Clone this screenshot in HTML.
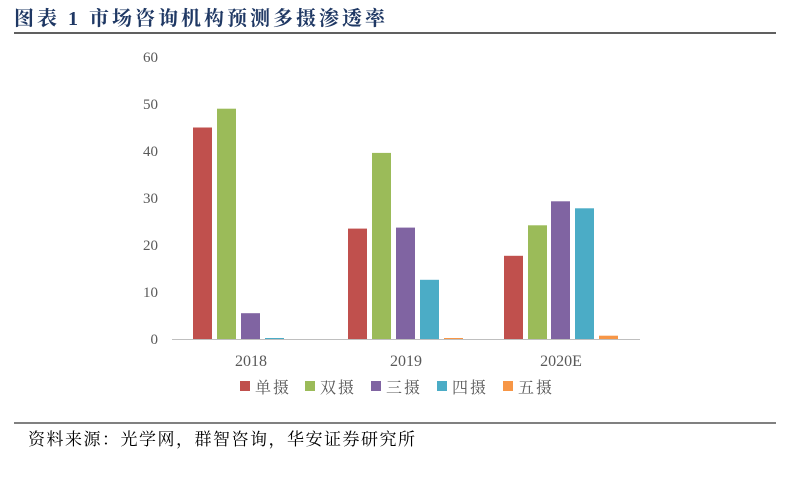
<!DOCTYPE html>
<html><head><meta charset="utf-8"><style>
body{margin:0;background:#fff;width:794px;height:478px;overflow:hidden}
</style></head><body>
<svg width="794" height="478" xmlns="http://www.w3.org/2000/svg">
<text x="14" y="25" font-family="'Liberation Serif','Noto Serif CJK SC',serif" font-weight="bold" font-size="20" fill="#1F3864" letter-spacing="3" xml:space="preserve">图表 1 市场咨询机构预测多摄渗透率</text>
<line x1="14" y1="33" x2="776" y2="33" stroke="#000" stroke-width="1.2"/>
<g font-family="'Liberation Serif',serif" font-size="15" fill="#595959" text-anchor="end">
<text x="158" y="62">60</text><text x="158" y="109">50</text><text x="158" y="156">40</text>
<text x="158" y="203">30</text><text x="158" y="250">20</text><text x="158" y="297">10</text><text x="158" y="344">0</text>
</g>
<g>
<rect x="193" y="127.5" width="19" height="211.5" fill="#C0504D"/>
<rect x="217" y="108.7" width="19" height="230.3" fill="#9BBB59"/>
<rect x="241" y="313.2" width="19" height="25.8" fill="#8064A2"/>
<rect x="265" y="338" width="19" height="1" fill="#4BACC6"/>
<rect x="348" y="228.6" width="19" height="110.4" fill="#C0504D"/>
<rect x="372" y="152.9" width="19" height="186.1" fill="#9BBB59"/>
<rect x="396" y="227.6" width="19" height="111.4" fill="#8064A2"/>
<rect x="420" y="279.8" width="19" height="59.2" fill="#4BACC6"/>
<rect x="444" y="338" width="19" height="1" fill="#F79646"/>
<rect x="504" y="255.8" width="19" height="83.2" fill="#C0504D"/>
<rect x="528" y="225.3" width="19" height="113.7" fill="#9BBB59"/>
<rect x="551" y="201.3" width="19" height="137.7" fill="#8064A2"/>
<rect x="575" y="208.3" width="19" height="130.7" fill="#4BACC6"/>
<rect x="599" y="335.7" width="19" height="3.3" fill="#F79646"/>
</g>
<line x1="172" y1="339.5" x2="640" y2="339.5" stroke="#BFBFBF" stroke-width="1"/>
<g font-family="'Liberation Serif',serif" font-size="16" fill="#595959" text-anchor="middle">
<text x="251" y="366">2018</text><text x="406" y="366">2019</text><text x="561" y="366">2020E</text>
</g>
<g font-family="'Liberation Serif','Noto Serif CJK SC',serif" font-size="16" fill="#595959" letter-spacing="2">
<rect x="240" y="381" width="10" height="10" fill="#C0504D"/><text x="255" y="393">单摄</text>
<rect x="305" y="381" width="10" height="10" fill="#9BBB59"/><text x="320" y="393">双摄</text>
<rect x="371" y="381" width="10" height="10" fill="#8064A2"/><text x="386" y="393">三摄</text>
<rect x="437" y="381" width="10" height="10" fill="#4BACC6"/><text x="452" y="393">四摄</text>
<rect x="503" y="381" width="10" height="10" fill="#F79646"/><text x="518" y="393">五摄</text>
</g>
<line x1="14" y1="423" x2="776" y2="423" stroke="#000" stroke-width="1"/>
<text x="28" y="445" font-family="'Liberation Serif','Noto Serif CJK SC',serif" font-size="17" fill="#000" letter-spacing="1.5">资料来源：光学网，群智咨询，华安证券研究所</text>
</svg>
</body></html>
